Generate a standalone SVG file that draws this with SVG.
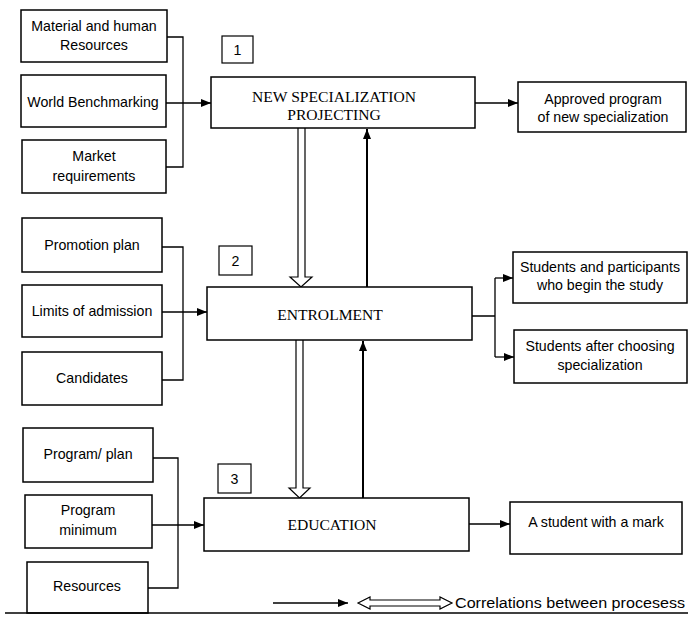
<svg xmlns="http://www.w3.org/2000/svg" width="690" height="633" viewBox="0 0 690 633">
<defs>
<marker id="arr" markerUnits="userSpaceOnUse" markerWidth="11" markerHeight="9" refX="10" refY="4" orient="auto">
<path d="M0,0 L10,4 L0,8 z" fill="#000"/>
</marker>
<style>
.box{fill:#fff;stroke:#000;stroke-width:1.5}
.lbl{fill:#fff;stroke:#000;stroke-width:1.2}
.s{font-family:"Liberation Sans",Arial,sans-serif;font-size:14.2px;fill:#000;text-anchor:middle}
.b{font-family:"Liberation Serif","Times New Roman",serif;font-size:15.6px;fill:#000;text-anchor:middle}
.c{fill:none;stroke:#000;stroke-width:1.3}
.ca{fill:none;stroke:#000;stroke-width:1.3;marker-end:url(#arr)}
.hol{fill:#fff;stroke:#000;stroke-width:1.2}
.up{fill:none;stroke:#000;stroke-width:2;marker-end:url(#arr)}
</style>
</defs>
<rect width="690" height="633" fill="#fff"/>

<g id="connectors">
<path class="c" d="M167,37 H183 V167 H166"/>
<path class="ca" d="M166,103 H211"/>
<path class="ca" d="M475,103 H518"/>
<path class="c" d="M162,247 H183 V380 H162"/>
<path class="ca" d="M162,312 H207"/>
<path class="c" d="M472,316 H495 M495,278 V357"/>
<path class="ca" d="M495,278 H513"/>
<path class="ca" d="M495,357 H514"/>
<path class="c" d="M153,458 H178 V588 H148"/>
<path class="ca" d="M152,525 H204"/>
<path class="ca" d="M469,524 H510"/>
<path class="hol" d="M298,128 V277 H290 L301,287 L312,277 H305 V128"/>
<path class="up" d="M367,287 V129"/>
<path class="hol" d="M296,340 V488 H289 L299.5,498 L310,488 H303 V340"/>
<path class="up" d="M363,498 V341"/>
</g>

<g id="n-material"><rect class="box" x="21" y="10" width="146" height="52"/><text class="s" x="94" y="31">Material and human</text><text class="s" x="94" y="50">Resources</text></g>
<g id="n-world"><rect class="box" x="21" y="75" width="145" height="52"/><text class="s" x="93" y="107">World Benchmarking</text></g>
<g id="n-market"><rect class="box" x="22" y="140" width="144" height="53"/><text class="s" x="94" y="161">Market</text><text class="s" x="94" y="181">requirements</text></g>

<g id="n-label1"><rect class="lbl" x="222" y="36" width="31" height="27"/><text class="s" x="237.5" y="55">1</text></g>
<g id="n-projecting"><rect class="box" x="211" y="77" width="264" height="51"/><text class="b" x="334" y="102">NEW SPECIALIZATION</text><text class="b" x="334" y="120">PROJECTING</text></g>
<g id="n-approved"><rect class="box" x="518" y="82" width="168" height="50"/><text class="s" x="603" y="104">Approved program</text><text class="s" x="603" y="122">of new specialization</text></g>

<g id="n-promotion"><rect class="box" x="22" y="218" width="140" height="54"/><text class="s" x="92" y="250">Promotion plan</text></g>
<g id="n-limits"><rect class="box" x="22" y="285" width="140" height="52"/><text class="s" x="92" y="316">Limits of admission</text></g>
<g id="n-candidates"><rect class="box" x="22" y="352" width="140" height="53"/><text class="s" x="92" y="383">Candidates</text></g>

<g id="n-label2"><rect class="lbl" x="219" y="246" width="33" height="29"/><text class="s" x="235.5" y="266">2</text></g>
<g id="n-entrolment"><rect class="box" x="207" y="287" width="265" height="53"/><text class="b" x="330" y="320">ENTROLMENT</text></g>
<g id="n-students1"><rect class="box" x="513" y="252" width="174" height="51"/><text class="s" x="600" y="272">Students and participants</text><text class="s" x="600" y="290">who begin the study</text></g>
<g id="n-students2"><rect class="box" x="514" y="330" width="173" height="53"/><text class="s" x="600" y="351">Students after choosing</text><text class="s" x="600" y="370">specialization</text></g>

<g id="n-programplan"><rect class="box" x="23" y="428" width="130" height="54"/><text class="s" x="88" y="459">Program/ plan</text></g>
<g id="n-programmin"><rect class="box" x="25" y="495" width="127" height="53"/><text class="s" x="88" y="515">Program</text><text class="s" x="88" y="535">minimum</text></g>
<g id="n-resources"><rect class="box" x="27" y="562" width="121" height="51"/><text class="s" x="87" y="591">Resources</text></g>

<g id="n-label3"><rect class="lbl" x="218" y="464" width="33" height="29"/><text class="s" x="234.5" y="484">3</text></g>
<g id="n-education"><rect class="box" x="204" y="498" width="265" height="53"/><text class="b" x="332" y="530">EDUCATION</text></g>
<g id="n-mark"><rect class="box" x="510" y="502" width="172" height="52"/><text class="s" x="596" y="527">A student with a mark</text></g>

<g id="legend">
<path class="ca" d="M273,603 H348"/>
<path class="hol" d="M358,603 L370,597 V600 H440 V597 L452,603 L440,609 V606 H370 V609 z"/>
<text x="455" y="608" textLength="230" lengthAdjust="spacingAndGlyphs" style="font-family:'Liberation Sans',Arial,sans-serif;font-size:14px;fill:#000">Correlations between procesess</text>
<path d="M5,613 H688" stroke="#000" stroke-width="1.5"/>
</g>
</svg>
